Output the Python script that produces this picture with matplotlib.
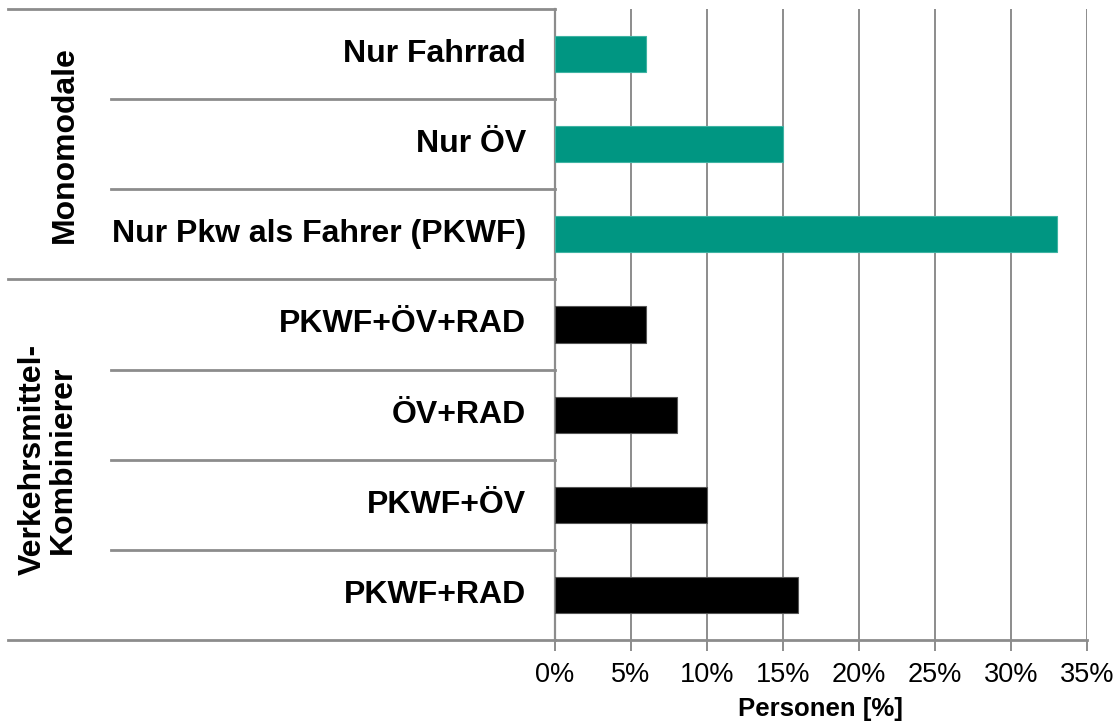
import matplotlib
matplotlib.use("Agg")
import matplotlib.pyplot as plt
from matplotlib.transforms import blended_transform_factory

# Data (bottom to top)
categories = ["PKWF+RAD", "PKWF+ÖV", "ÖV+RAD", "PKWF+ÖV+RAD",
              "Nur Pkw als Fahrer (PKWF)", "Nur ÖV", "Nur Fahrrad"]
values = [16, 10, 8, 6, 33, 15, 6]
groups = ["Verkehrsmittel-\nKombinierer", "Monomodale"]
group_sizes = [4, 3]
group_colors = ["#000000", "#009682"]
xticks = [0, 5, 10, 15, 20, 25, 30, 35]
xticklabels = ["0%", "5%", "10%", "15%", "20%", "25%", "30%", "35%"]
xlabel = "Personen [%]"

plt.rcParams['font.family'] = ['Liberation Sans', 'DejaVu Sans']

W, H = 1116, 724
fig = plt.figure(figsize=(W / 100, H / 100), dpi=100)
ax = fig.add_axes([555 / W, (H - 640) / H, (1087 - 555) / W, (640 - 9) / H])

colors = []
for g, n in zip(group_colors, group_sizes):
    colors += [g] * n
ypos = [i + 0.5 for i in range(len(categories))]
edge = ["#555555" if c == "#000000" else "#3fb3a3" for c in colors]
ax.barh(ypos, values, height=0.4, color=colors, edgecolor=edge, linewidth=0.8, zorder=3)

ax.set_xlim(0, 35)
ax.set_ylim(0, len(categories))
ax.set_xticks(xticks)
ax.set_xticklabels(xticklabels, fontsize=19.5)
ax.set_yticks([])
ax.grid(axis='x', color='#8c8c8c', linewidth=1.4, zorder=0)
ax.tick_params(axis='x', length=8, width=1.4, color='#8c8c8c', pad=8, labelcolor='#000000')
for s in ['top', 'right']:
    ax.spines[s].set_visible(False)
ax.spines['bottom'].set_color('#8c8c8c')
ax.spines['bottom'].set_linewidth(2)
ax.spines['left'].set_color('#8c8c8c')
ax.spines['left'].set_linewidth(1.6)
ax.set_xlabel(xlabel, fontsize=18.5, fontweight='bold', labelpad=6)

trans = blended_transform_factory(fig.transFigure, ax.transData)
x_axis = 555 / W
x_inner = 111 / W
x_outer = 8 / W

# category labels
for y, c in zip(ypos, categories):
    ax.annotate(c, xy=(526 / W, y), xycoords=trans, ha='right', va='center',
                fontsize=23, fontweight='bold', annotation_clip=False)

# separators
bounds = [0]
for n in group_sizes:
    bounds.append(bounds[-1] + n)
for k in range(len(categories) + 1):
    x0 = x_outer if k in bounds else x_inner
    ax.plot([x0, x_axis], [k, k], transform=trans, color='#8c8c8c',
            linewidth=2, clip_on=False, zorder=1)

# group labels
for gi, g in enumerate(groups):
    yc = (bounds[gi] + bounds[gi + 1]) / 2
    xc = (65 if "\n" not in g else 48) / W
    ax.annotate(g, xy=(xc, yc), xycoords=trans, ha='center', va='center',
                rotation=90, fontsize=23, fontweight='bold',
                annotation_clip=False, linespacing=1.0)

fig.savefig("out.png", dpi=100)
